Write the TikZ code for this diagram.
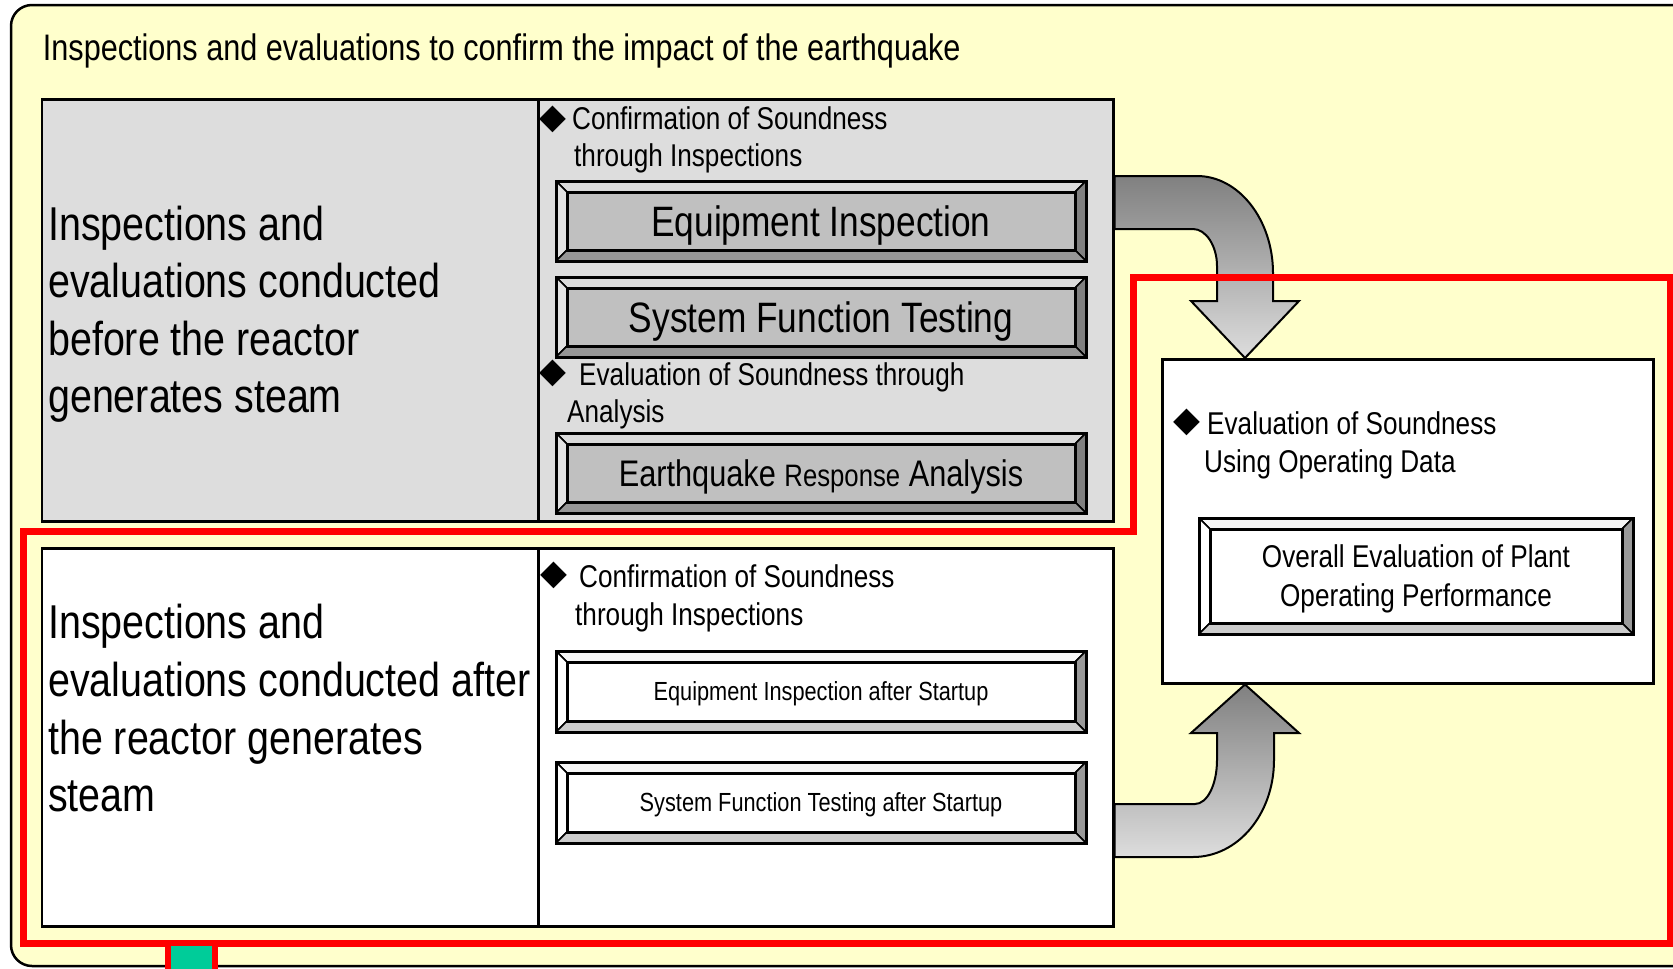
\documentclass[tikz,border=0pt]{standalone}
\usepackage{fontspec}
\setmainfont[FakeStretch=0.83]{Liberation Sans}
\newfontfamily\symf{DejaVu Sans}
\definecolor{bgyellow}{HTML}{FFFFCC}
\definecolor{panelgray}{HTML}{DDDDDD}
\definecolor{bvface}{HTML}{C0C0C0}
\definecolor{gtop}{HTML}{DADADA}
\definecolor{gleft}{HTML}{E2E2E2}
\definecolor{gright}{HTML}{808080}
\definecolor{gbot}{HTML}{969696}
\definecolor{wtop}{HTML}{F6F6F6}
\definecolor{wleft}{HTML}{FFFFFF}
\definecolor{wright}{HTML}{999999}
\definecolor{wbot}{HTML}{CCCCCC}
\definecolor{ardark}{HTML}{808080}
\definecolor{arlight}{HTML}{DDDDDD}
\definecolor{framered}{HTML}{FF0000}
\definecolor{tealfill}{HTML}{00CC99}
\tikzset{
  cell/.style={draw=black, line width=2.5pt, anchor=north west, inner sep=0pt},
  ttl/.style={anchor=base west, inner sep=0pt, font=\fontsize{36.9}{44}\selectfont},
  big/.style={anchor=base west, inner sep=0pt, font=\fontsize{47.5}{57}\selectfont},
  lbl/.style={anchor=base west, inner sep=0pt, font=\fontsize{31.5}{38}\selectfont},
  dia/.style={inner sep=0pt, font=\symf\fontsize{35}{35}\selectfont},
  bevelbox/.style n args={5}{draw=black, line width=3pt, fill=#1, inner sep=0pt, text depth=0pt,
    path picture={
      \path (path picture bounding box.north west) coordinate (b1)
            (path picture bounding box.north east) coordinate (b2)
            (path picture bounding box.south east) coordinate (b3)
            (path picture bounding box.south west) coordinate (b4);
      \path ([xshift=11pt,yshift=-11pt]b1) coordinate (i1)
            ([xshift=-11pt,yshift=-11pt]b2) coordinate (i2)
            ([xshift=-11pt,yshift=11pt]b3) coordinate (i3)
            ([xshift=11pt,yshift=11pt]b4) coordinate (i4);
      \filldraw[fill=#2, line width=1.5pt] (b1) -- (b2) -- (i2) -- (i1) -- cycle;
      \filldraw[fill=#3, line width=1.5pt] (b1) -- (i1) -- (i4) -- (b4) -- cycle;
      \filldraw[fill=#4, line width=1.5pt] (b2) -- (b3) -- (i3) -- (i2) -- cycle;
      \filldraw[fill=#5, line width=1.5pt] (b4) -- (i4) -- (i3) -- (b3) -- cycle;
      \draw[line width=3pt] (i1) rectangle (i3);
    }},
  graybevel/.style={bevelbox={bvface}{gtop}{gleft}{gright}{gbot}},
  whitebevel/.style={bevelbox={white}{wtop}{wleft}{wright}{wbot}},
  bigbox/.style={font=\fontsize{42.5}{50}\selectfont, text height=30.4pt},
  smallbox/.style={font=\fontsize{26.2}{32}\selectfont, text height=18.8pt},
  blockarrow/.style={top color=ardark, bottom color=arlight, draw=black, line width=2pt},
  redframe/.style={draw=framered, line width=7pt},
}
\begin{document}
\begin{tikzpicture}[x=1pt,y=-1pt]
\useasboundingbox (0,0) rectangle (1673,969);
% outer yellow panel
\draw[fill=bgyellow, line width=2.5pt, rounded corners=21pt] (11,5) rectangle (1730,966);
\node[ttl] (title) at (42.7,60) {Inspections and evaluations to confirm the impact of the earthquake};

% top panel
\node[cell, fill=panelgray, minimum width=496.5pt, minimum height=422pt] (tl) at (40.5,98) {};
\node[cell, fill=panelgray, minimum width=575pt, minimum height=422pt] (tr) at (537,98) {};
% bottom panel
\node[cell, fill=white, minimum width=496.5pt, minimum height=378pt] (bl) at (40.5,547) {};
\node[cell, fill=white, minimum width=575pt, minimum height=378pt] (br) at (537,547) {};
% right box
\node[cell, fill=white, minimum width=491pt, minimum height=324pt] (rb) at (1161,358) {};

% block arrows
\shadedraw[blockarrow] (tr.east |- 0,176) -- (1197,176) .. controls (1239,176) and (1273,220) .. (1273,273)
  -- (1273,301) -- (1299,301) -- (rb.north -| 1245,0) -- (1191,301) -- (1217,301) -- (1217,266)
  .. controls (1217,246) and (1206,229) .. (1193,229) -- (tr.east |- 0,229) -- cycle;
\shadedraw[blockarrow] (br.east |- 0,804) -- (1195,804) .. controls (1207,804) and (1217,785) .. (1217,760)
  -- (1217,733) -- (1191,733) -- (rb.south -| 1245,0) -- (1299,733) -- (1274,733) -- (1274,760)
  .. controls (1274,814) and (1238,857) .. (1193,857) -- (br.east |- 0,857) -- cycle;

% left texts
\node[big] (tl1) at (48,240) {Inspections and};
\node[big] (tl2) at (48,297.5) {evaluations conducted};
\node[big] (tl3) at (48,355) {before the reactor};
\node[big] (tl4) at (48,412.5) {generates steam};
\node[big] (bl1) at (48,638.5) {Inspections and};
\node[big] (bl2) at (48,696.5) {evaluations conducted after};
\node[big] (bl3) at (48,754) {the reactor generates};
\node[big] (bl4) at (48,811.5) {steam};

% top right cell labels
\node[dia] (d1) at (553,119) {◆};
\node[lbl] (c1a) at (572,129.7) {Confirmation of Soundness};
\node[lbl] (c1b) at (574,166.7) {through Inspections};
\node[dia] (d2) at (553,373) {◆};
\node[lbl] (e1a) at (579,385) {Evaluation of Soundness through};
\node[lbl] (e1b) at (567,422.5) {Analysis};
% bottom right cell labels
\node[dia] (d3) at (554,575) {◆};
\node[lbl] (c2a) at (579,587.5) {Confirmation of Soundness};
\node[lbl] (c2b) at (575,625) {through Inspections};
% right box labels
\node[dia] (d4) at (1187,422) {◆};
\node[lbl] (r1a) at (1207,434) {Evaluation of Soundness};
\node[lbl] (r1b) at (1204,472) {Using Operating Data};

% bevel boxes
\node[graybevel, bigbox, minimum width=530pt, minimum height=80pt] (eqi) at (821,221) {Equipment Inspection};
\node[graybevel, bigbox, minimum width=530pt, minimum height=80pt] (sft) at (821,317) {System Function Testing};
\node[graybevel, font=\fontsize{37}{44}\selectfont, text height=26.5pt, minimum width=530pt, minimum height=80pt] (era) at (821,473)
  {Earthquake {\fontsize{31}{36}\selectfont Response} Analysis};
\node[whitebevel, smallbox, minimum width=530pt, minimum height=81pt] (eia) at (821,691.5) {Equipment Inspection after Startup};
\node[whitebevel, smallbox, minimum width=530pt, minimum height=81pt] (sfa) at (821,802.5) {System Function Testing after Startup};
\node[whitebevel, font=\fontsize{31.5}{39}\selectfont, align=center, text height=61.5pt, text depth=0pt,
  minimum width=434pt, minimum height=116pt] (ovr) at (1416,576) {Overall Evaluation of Plant\\Operating Performance};

% red frame and marker
\draw[redframe] (23,531) -- (1133,531) -- (1133,277) -- (1670,277) -- (1670,943) -- (23,943) -- cycle;
\filldraw[fill=tealfill, draw=framered, line width=6pt] (168,943) rectangle (215,995);
\end{tikzpicture}
\end{document}
